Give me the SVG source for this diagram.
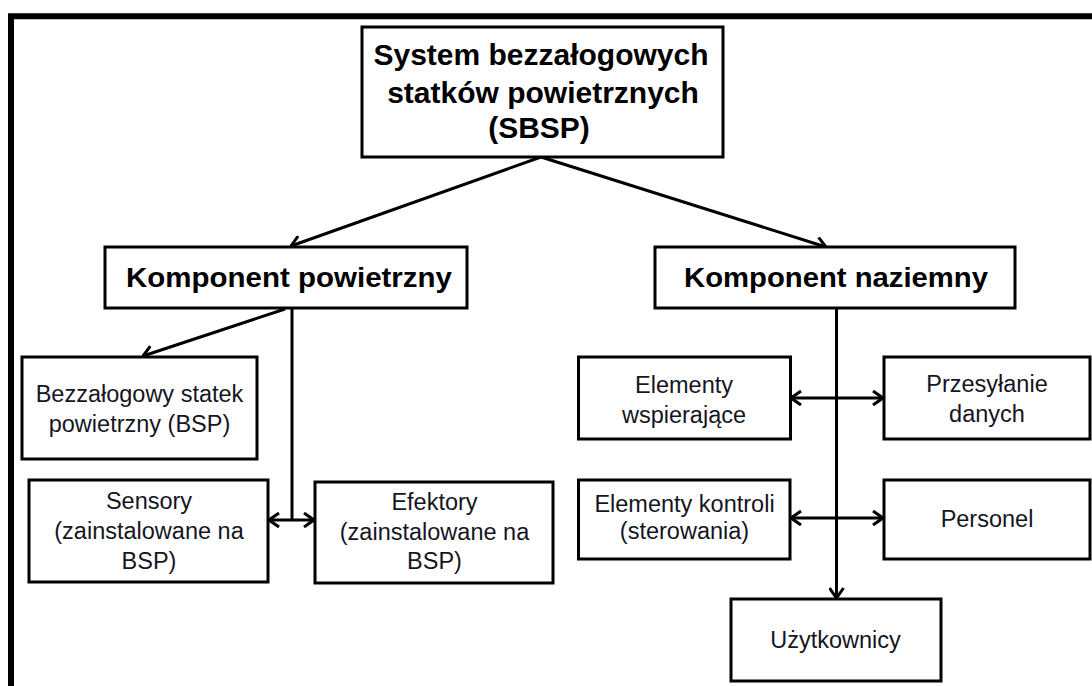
<svg xmlns="http://www.w3.org/2000/svg" width="1092" height="686" viewBox="0 0 1092 686">
  <style>
    .box { fill: #ffffff; stroke: #000000; stroke-width: 3; }
    .frame { stroke: #000000; stroke-width: 6; fill: none; }
    .link { stroke: #000000; stroke-width: 3; fill: none; }
    .title { font-family: "Liberation Sans", Arial, sans-serif; font-weight: bold; font-size: 30px; fill: #000000; text-anchor: middle; }
    .head { font-family: "Liberation Sans", Arial, sans-serif; font-weight: bold; font-size: 28px; fill: #000000; text-anchor: middle; }
    .label { font-family: "Liberation Sans", Arial, sans-serif; font-size: 23.5px; fill: #15151f; text-anchor: middle; }
  </style>
  <defs>
    <marker id="chevron" viewBox="0 0 12 16" refX="11" refY="8" markerWidth="12" markerHeight="16" markerUnits="userSpaceOnUse" orient="auto-start-reverse">
      <path d="M1,1 L11,8 L1,15" fill="none" stroke="#000000" stroke-width="3" stroke-linejoin="miter"/>
    </marker>
  </defs>

  <rect x="0" y="0" width="1092" height="686" fill="#ffffff"/>

  <!-- outer frame (top and left edges) -->
  <path class="frame" d="M11,686 L11,16.3 L1092,16.3"/>

  <!-- connectors -->
  <g id="connectors">
    <line class="link" x1="541" y1="157" x2="291" y2="246" marker-end="url(#chevron)"/>
    <line class="link" x1="541" y1="157" x2="826" y2="247" marker-end="url(#chevron)"/>
    <line class="link" x1="285" y1="309" x2="143" y2="356" marker-end="url(#chevron)"/>
    <line class="link" x1="292" y1="308" x2="292" y2="520"/>
    <line class="link" x1="269" y1="520" x2="314" y2="520" marker-start="url(#chevron)" marker-end="url(#chevron)"/>
    <line class="link" x1="836.5" y1="308" x2="836.5" y2="598" marker-end="url(#chevron)"/>
    <line class="link" x1="791" y1="398" x2="883" y2="398" marker-start="url(#chevron)" marker-end="url(#chevron)"/>
    <line class="link" x1="791" y1="518" x2="883" y2="518" marker-start="url(#chevron)" marker-end="url(#chevron)"/>
  </g>

  <g id="sbsp">
    <rect class="box" x="362" y="27" width="361" height="130"/>
    <text class="title" x="541" y="65">System bezzałogowych</text>
    <text class="title" x="543" y="103">statków powietrznych</text>
    <text class="title" x="539" y="138">(SBSP)</text>
  </g>

  <g id="komponent-powietrzny">
    <rect class="box" x="105" y="247" width="362" height="61"/>
    <text class="head" x="289" y="287" textLength="326" lengthAdjust="spacingAndGlyphs">Komponent powietrzny</text>
  </g>

  <g id="komponent-naziemny">
    <rect class="box" x="655" y="247" width="360" height="61"/>
    <text class="head" x="836" y="287" textLength="304" lengthAdjust="spacingAndGlyphs">Komponent naziemny</text>
  </g>

  <g id="bsp">
    <rect class="box" x="22" y="357" width="235" height="102"/>
    <text class="label" x="139.5" y="402">Bezzałogowy statek</text>
    <text class="label" x="139.5" y="432">powietrzny (BSP)</text>
  </g>

  <g id="sensory">
    <rect class="box" x="29" y="480" width="239" height="102"/>
    <text class="label" x="149" y="509">Sensory</text>
    <text class="label" x="149" y="539">(zainstalowane na</text>
    <text class="label" x="149" y="569">BSP)</text>
  </g>

  <g id="efektory">
    <rect class="box" x="315" y="482" width="238" height="101"/>
    <text class="label" x="434.5" y="510">Efektory</text>
    <text class="label" x="434.5" y="540">(zainstalowane na</text>
    <text class="label" x="434.5" y="569">BSP)</text>
  </g>

  <g id="elementy-wspierajace">
    <rect class="box" x="578.5" y="357" width="212" height="82"/>
    <text class="label" x="684" y="393">Elementy</text>
    <text class="label" x="684" y="423">wspierające</text>
  </g>

  <g id="przesylanie-danych">
    <rect class="box" x="884" y="357" width="206" height="82"/>
    <text class="label" x="987" y="392">Przesyłanie</text>
    <text class="label" x="987" y="422">danych</text>
  </g>

  <g id="elementy-kontroli">
    <rect class="box" x="578.5" y="480" width="211.5" height="79"/>
    <text class="label" x="684.5" y="512">Elementy kontroli</text>
    <text class="label" x="684.5" y="539">(sterowania)</text>
  </g>

  <g id="personel">
    <rect class="box" x="884" y="480" width="206" height="79"/>
    <text class="label" x="987" y="527">Personel</text>
  </g>

  <g id="uzytkownicy">
    <rect class="box" x="731" y="599" width="210" height="82"/>
    <text class="label" x="835.5" y="648">Użytkownicy</text>
  </g>
</svg>
